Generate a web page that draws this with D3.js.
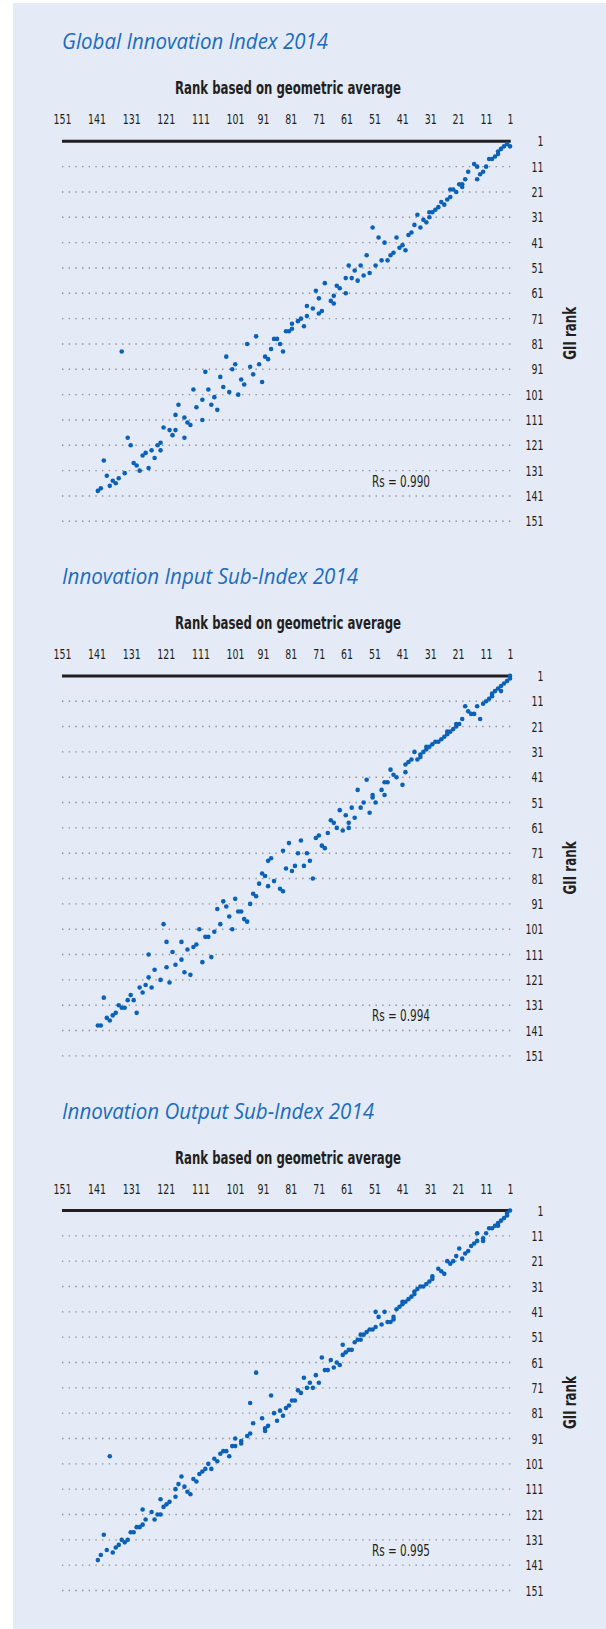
<!DOCTYPE html>
<html>
<head>
<meta charset="utf-8">
<script src="https://cdn.jsdelivr.net/npm/d3@7"></script>
<style>
  body { margin: 0; background: #fff; }
  svg { display: block; }
</style>
</head>
<body>
<svg id="chart" width="606" height="1629"></svg>
<script>
'use strict';
const TITLES = [
  'Global Innovation Index 2014',
  'Innovation Input Sub-Index 2014',
  'Innovation Output Sub-Index 2014',
];
const TITLE_WIDTHS = [266, 296, 312];
const RS_VALUES = ['0.990', '0.994', '0.995'];
const X_TITLE = 'Rank based on geometric average';
const Y_TITLE = 'GII rank';
const X_TICKS = [151, 141, 131, 121, 111, 101, 91, 81, 71, 61, 51, 41, 31, 21, 11, 1];
const Y_TICKS = [1, 11, 21, 31, 41, 51, 61, 71, 81, 91, 101, 111, 121, 131, 141, 151];

// [rank based on geometric average, GII rank]
const giiPoints = [
  [2, 2], [1, 3], [3, 3], [4, 4], [5, 5], [5, 6], [6, 7], [7, 8], [8, 8],
  [9, 11], [10, 13], [11, 14], [12, 11], [12, 16], [13, 10], [15, 13], [16, 16],
  [17, 18], [17, 19], [18, 18], [19, 21], [20, 20], [21, 20], [21, 23], [22, 24],
  [23, 26], [24, 25], [25, 27], [26, 28], [27, 29], [28, 29], [28, 31], [29, 33],
  [30, 32], [31, 35], [32, 30], [33, 34], [34, 37], [35, 38], [36, 44], [37, 42],
  [38, 43], [39, 39], [40, 45], [41, 46], [42, 48], [43, 41], [44, 48], [45, 39],
  [46, 50], [47, 35], [48, 53], [49, 46], [50, 54], [51, 50], [52, 56], [53, 52],
  [54, 55], [55, 50], [56, 55], [58, 59], [59, 58], [63, 57], [66, 60],
  [65, 63], [61, 64], [60, 65], [60, 62], [56, 61], [69, 66], [67, 67], [69, 70],
  [65, 69], [64, 68], [70, 74], [71, 71], [72, 72], [74, 75], [74, 73], [75, 76],
  [76, 76], [78, 81], [77, 84], [79, 79], [80, 79], [81, 83], [82, 87], [83, 86],
  [85, 89], [86, 78], [89, 81], [88, 90], [87, 93], [84, 96], [93, 89], [94, 91],
  [91, 95], [90, 97], [96, 86], [98, 94], [97, 98], [103, 92], [107, 99],
  [131, 84], [92, 101], [95, 100], [102, 99], [104, 103], [106, 106], [100, 102],
  [101, 105], [99, 107], [104, 111], [112, 105], [113, 109], [110, 110], [109, 112],
  [108, 113], [110, 118], [113, 115], [114, 117], [115, 115], [117, 114], [118, 123],
  [118, 120], [119, 121], [121, 123], [120, 126], [122, 130], [123, 124], [124, 125],
  [125, 131], [126, 129], [127, 128], [128, 121], [129, 118], [130, 132], [132, 134],
  [133, 136], [134, 135], [135, 137], [136, 133], [137, 127], [138, 138], [139, 139],
];

const inputPoints = [
  [1, 1], [1, 2], [2, 3], [3, 4], [4, 5], [5, 6], [4, 7], [6, 7], [7, 8], [7, 9],
  [8, 10], [9, 11], [10, 12], [12, 13], [11, 18], [13, 16], [14, 16], [15, 15],
  [16, 13], [17, 18], [18, 20], [19, 20], [19, 21], [20, 22], [21, 23], [22, 23],
  [22, 24], [23, 25], [24, 26], [25, 27], [26, 27], [27, 28], [28, 29], [29, 30],
  [29, 29], [30, 31], [31, 32], [31, 33], [32, 34], [33, 31], [34, 34], [35, 35],
  [36, 39], [36, 36], [37, 44], [39, 41], [40, 40], [41, 38], [42, 43], [43, 43],
  [43, 48], [44, 46], [46, 51], [47, 49], [47, 48], [48, 55], [49, 42], [50, 51],
  [51, 53], [52, 46], [53, 57], [54, 53], [55, 59], [56, 56], [58, 54], [60, 59],
  [61, 58],
  [55, 61], [57, 62], [59, 61], [62, 63], [65, 64], [66, 65], [64, 68], [63, 69],
  [71, 66], [75, 67], [77, 70], [81, 73], [82, 74], [72, 71], [69, 71], [68, 74],
  [70, 76], [73, 76], [74, 78], [76, 77], [67, 81], [80, 82], [84, 79], [83, 80],
  [85, 83], [82, 84], [78, 85], [77, 86], [87, 87], [86, 88], [88, 91], [93, 89],
  [97, 90], [99, 93], [96, 92], [95, 96], [92, 94], [91, 94], [90, 97], [89, 98],
  [98, 99],
  [94, 101], [100, 102], [105, 101], [103, 104], [102, 104], [106, 107], [107, 108],
  [109, 109], [111, 106], [117, 99], [116, 106], [114, 110], [111, 113], [113, 115],
  [110, 118], [108, 119], [104, 114], [101, 112], [122, 111], [120, 117], [122, 120],
  [118, 121], [116, 116], [115, 122], [123, 123], [125, 124], [124, 126], [121, 124],
  [128, 127], [127, 129], [129, 129], [126, 134], [132, 131], [131, 132], [130, 132],
  [133, 134], [134, 135], [135, 137], [136, 136], [137, 128], [138, 139], [139, 139],
];

const outputPoints = [
  [1, 1], [2, 2], [2, 3], [3, 4], [4, 5], [5, 6], [5, 7], [6, 7], [7, 8], [8, 8],
  [9, 10], [10, 12], [10, 13], [12, 10], [12, 13], [13, 14], [14, 15], [15, 17],
  [16, 18], [17, 20], [18, 16], [19, 19], [20, 21], [21, 22], [22, 21], [23, 26],
  [24, 25], [25, 24], [27, 28], [27, 27], [28, 29], [29, 30], [30, 31], [31, 31],
  [32, 32], [33, 33], [33, 34], [34, 35], [35, 36], [36, 37], [37, 37], [37, 38],
  [38, 39], [39, 40], [40, 43], [40, 44], [41, 45], [42, 45], [43, 41], [44, 46],
  [45, 43], [46, 47], [46, 41], [47, 48], [48, 48], [49, 49], [50, 50], [51, 50],
  [51, 52], [52, 52], [53, 53], [54, 56], [55, 56], [56, 57], [57, 58], [57, 54],
  [61, 60], [64, 59],
  [58, 62], [59, 61], [60, 63], [62, 64], [63, 64], [65, 69], [66, 66], [67, 71],
  [68, 69], [69, 71], [70, 67], [71, 73], [72, 72], [73, 76], [74, 76], [75, 78],
  [76, 79], [77, 82], [78, 80], [79, 84], [80, 81], [81, 74], [82, 86], [83, 87],
  [83, 88], [84, 83], [87, 85], [88, 89], [88, 77], [89, 90], [91, 92], [91, 93],
  [93, 91], [93, 94], [94, 94], [95, 98], [96, 96], [97, 96], [98, 97], [86, 65],
  [99, 100], [100, 99], [101, 103], [102, 101], [103, 103], [104, 104], [105, 105],
  [106, 108], [107, 107], [108, 113], [109, 112], [110, 110], [111, 106], [112, 109],
  [113, 114], [113, 111], [115, 116], [116, 117], [117, 118], [118, 121], [118, 115],
  [119, 121], [120, 123], [121, 120], [123, 123], [124, 125], [124, 119], [125, 126],
  [126, 126], [127, 128], [128, 128], [129, 131], [130, 132], [131, 131], [132, 133],
  [133, 134], [134, 136], [135, 98], [136, 135], [137, 129], [138, 137], [139, 139],
];

const PANELS = [giiPoints, inputPoints, outputPoints];
const NARROW = '"Liberation Sans Narrow", "DejaVu Sans Condensed", "Arial Narrow", sans-serif';
const DOT_COLOR = '#0a62b8';
const DIGIT_WIDTH = 6;

document.addEventListener('DOMContentLoaded', drawChart, false);

function drawChart() {
  let svg = d3.select('#chart');

  svg
    .append('rect')
    .attr('x', 13)
    .attr('y', 3)
    .attr('width', 593)
    .attr('height', 1626)
    .attr('fill', '#e5ebf6');

  // points sit on an even scale, the printed tick labels do not
  let x = d3.scaleLinear().domain([151, 1]).range([62, 510]);
  let xLabel = d3
    .scaleLinear()
    .domain([151, 101, 11, 1])
    .range([62, 235, 486, 510]);

  PANELS.forEach((points, i) => drawPanel(svg, points, i, x, xLabel));
}

function styleTicks(a, anchor) {
  a.select('.domain').remove();
  a.selectAll('.tick text')
    .attr('text-anchor', anchor)
    .attr('font-family', NARROW)
    .attr('font-size', 14.5)
    .attr('fill', '#231f20')
    .attr('textLength', (d) => String(d).length * DIGIT_WIDTH)
    .attr('lengthAdjust', 'spacingAndGlyphs');
}

function drawPanel(svg, points, i, x, xLabel) {
  let top = 141.3 + i * 534.6;
  let y = d3.scaleLinear().domain([1, 151]).range([top, top + 380]);
  let g = svg.append('g');

  g.append('text')
    .attr('x', 62)
    .attr('y', top - 92)
    .attr('font-family', '"Open Sans", sans-serif')
    .attr('font-style', 'italic')
    .attr('font-size', 21)
    .attr('fill', '#1b6cc0')
    .attr('textLength', TITLE_WIDTHS[i])
    .attr('lengthAdjust', 'spacingAndGlyphs')
    .text(TITLES[i]);

  g.append('text')
    .attr('x', 288)
    .attr('y', top - 47)
    .attr('text-anchor', 'middle')
    .attr('font-family', NARROW)
    .attr('font-weight', 'bold')
    .attr('font-size', 17)
    .attr('fill', '#231f20')
    .attr('textLength', 226)
    .attr('lengthAdjust', 'spacingAndGlyphs')
    .text(X_TITLE);

  // X-Axis labels
  g.append('g')
    .attr('transform', `translate(0,${top})`)
    .call(d3.axisTop(xLabel).tickValues(X_TICKS).tickSize(0).tickPadding(17))
    .call((a) => styleTicks(a, 'middle'));

  // Y-Axis labels and dotted rows
  g.append('g')
    .attr('transform', 'translate(543.5,0)')
    .call(d3.axisRight(y).tickValues(Y_TICKS).tickSize(0).tickPadding(0))
    .call((a) => styleTicks(a, 'end'));

  g.append('g')
    .selectAll('line')
    .data(Y_TICKS.slice(1))
    .join('line')
    .attr('x1', 62)
    .attr('x2', 512.5)
    .attr('y1', (d) => y(d))
    .attr('y2', (d) => y(d))
    .attr('stroke', '#8e8e8e')
    .attr('stroke-width', 1.4)
    .attr('stroke-dasharray', '1.4,5.27');

  g.append('line')
    .attr('x1', x(151))
    .attr('x2', x(1) + 0.7)
    .attr('y1', y(1))
    .attr('y2', y(1))
    .attr('stroke', '#231f20')
    .attr('stroke-width', 3);

  g.append('text')
    .attr('transform', `translate(576,${top + 192}) rotate(-90)`)
    .attr('text-anchor', 'middle')
    .attr('font-family', NARROW)
    .attr('font-weight', 'bold')
    .attr('font-size', 17)
    .attr('fill', '#231f20')
    .attr('textLength', 53)
    .attr('lengthAdjust', 'spacingAndGlyphs')
    .text(Y_TITLE);

  g.append('text')
    .attr('x', 372)
    .attr('y', top + 345.4)
    .attr('font-family', NARROW)
    .attr('font-size', 15)
    .attr('fill', '#231f20')
    .attr('textLength', 58)
    .attr('lengthAdjust', 'spacingAndGlyphs')
    .text(`Rs = ${RS_VALUES[i]}`);

  // points
  g.append('g')
    .selectAll('circle')
    .data(points)
    .join('circle')
    .attr('cx', (d) => x(d[0]))
    .attr('cy', (d) => y(d[1]))
    .attr('r', 2.3)
    .attr('fill', DOT_COLOR);
}
</script>
</body>
</html>
